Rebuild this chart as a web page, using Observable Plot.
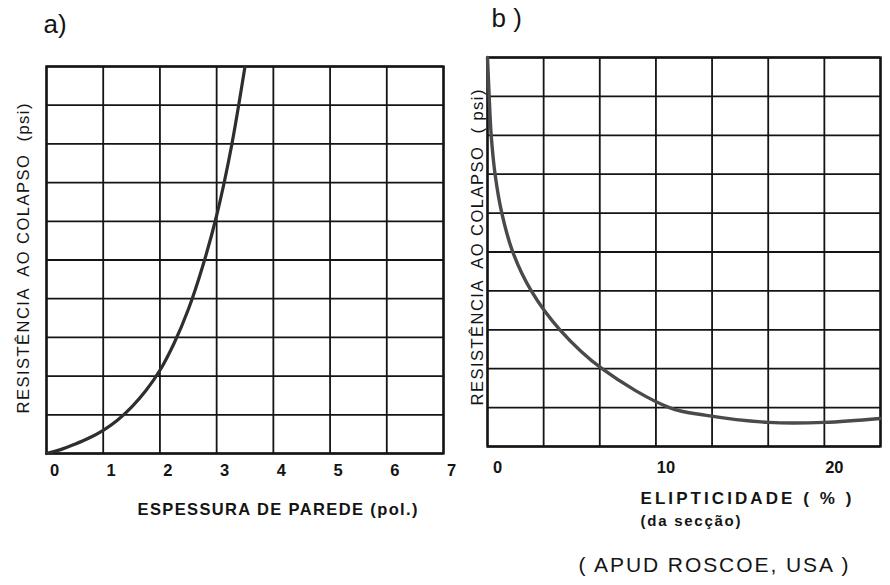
<!DOCTYPE html>
<html>
<head>
<meta charset="utf-8">
<script src="https://cdn.jsdelivr.net/npm/d3@7"></script>
<script src="https://cdn.jsdelivr.net/npm/@observablehq/plot@0.6"></script>
<style>
  html, body { margin: 0; padding: 0; background: #fff; }
  #wrap { position: relative; width: 890px; height: 585px; overflow: hidden; background: #fff; }
  #wrap svg { position: absolute; top: 0; background: transparent; overflow: visible; }
</style>
</head>
<body>
<div id="wrap"></div>
<script>
// ---- Panel a: wall thickness (pol.) vs collapse resistance (grid divisions)
const thicknessA = [0, 0.25, 0.5, 0.75, 1, 1.25, 1.5, 1.75, 2, 2.25, 2.5, 2.75, 3, 3.25, 3.5];
const resistA    = [0, 0.1, 0.24, 0.4, 0.6, 0.86, 1.2, 1.62, 2.15, 2.85, 3.72, 4.82, 6.15, 7.85, 10];
const xTicksA = [0, 1, 2, 3, 4, 5, 6, 7];

// ---- Panel b: ellipticity (%) vs collapse resistance (grid divisions)
const ellipB  = [0, 0.1, 0.22, 0.45, 0.85, 1.5, 2.6, 4.3, 6.8, 10.8, 13, 16.7, 20, 23.3];
const resistB = [10, 9, 8, 7, 6, 5, 4, 3, 2, 1, 0.8, 0.62, 0.62, 0.72];
const xGridB  = [0, 10/3, 20/3, 10, 40/3, 50/3, 20, 70/3];
const xLabelsB = [0, 10, 20];

const yGrid = [0, 1, 2, 3, 4, 5, 6, 7, 8, 9, 10];

const labelsA = {
  panel: "a)",
  x: "ESPESSURA DE PAREDE (pol.)",
  y: "RESISTÊNCIA  AO COLAPSO  (psi)"
};
const labelsB = {
  panel: "b )",
  x: "ELIPTICIDADE ( % )",
  x2: "(da secção)",
  y: "RESISTÊNCIA  AO COLAPSO  ( psi)",
  source: "( APUD ROSCOE, USA )"
};

const dataA = thicknessA.map((x, i) => ({x, y: resistA[i]}));
const dataB = ellipB.map((x, i) => ({x, y: resistB[i]}));

const font = "'Liberation Sans', Arial, sans-serif";
const ink = "#141414";

const plotA = Plot.plot({
  width: 460, height: 585,
  marginLeft: 46, marginRight: 17, marginTop: 66, marginBottom: 132,
  style: {fontFamily: font, background: "transparent", color: ink, overflow: "visible"},
  x: {domain: [0, 7]},
  y: {domain: [0, 10], axis: null},
  marks: [
    Plot.ruleX(xTicksA, {stroke: ink, strokeWidth: 1.8}),
    Plot.ruleY(yGrid, {stroke: ink, strokeWidth: 1.8}),
    Plot.frame({stroke: ink, strokeWidth: 2.4}),
    Plot.line(dataA, {x: "x", y: "y", curve: "catmull-rom", stroke: "#2e2e2e", strokeWidth: 3.2}),
    Plot.axisX(xTicksA, {tickSize: 0, tickPadding: 11, dx: 8, fontSize: 16.5, fontWeight: "bold", label: null}),
    Plot.text([labelsA.panel], {frameAnchor: "top-left", textAnchor: "start", lineAnchor: "middle", dx: -3, dy: -42, fontSize: 26, fill: ink}),
    Plot.text([labelsA.x], {frameAnchor: "bottom-left", textAnchor: "middle", lineAnchor: "middle", dx: 277 - 46, dy: 56, fontSize: 16.5, fontWeight: "bold", fill: ink}),
    Plot.text([labelsA.y], {frameAnchor: "top-left", rotate: -90, textAnchor: "middle", lineAnchor: "middle", dx: 23 - 46, dy: 258 - 66, fontSize: 16.5, fill: ink})
  ]
});

const plotB = Plot.plot({
  width: 445, height: 585,
  marginLeft: 42, marginRight: 10, marginTop: 57, marginBottom: 139,
  style: {fontFamily: font, background: "transparent", color: ink, overflow: "visible"},
  x: {domain: [0, 70/3]},
  y: {domain: [0, 10], axis: null},
  marks: [
    Plot.ruleX(xGridB, {stroke: ink, strokeWidth: 1.8}),
    Plot.ruleY(yGrid, {stroke: ink, strokeWidth: 1.8}),
    Plot.frame({stroke: ink, strokeWidth: 2.4}),
    Plot.line(dataB, {x: "x", y: "y", curve: "catmull-rom", stroke: "#4a4a4a", strokeWidth: 3.4}),
    Plot.axisX(xLabelsB, {tickSize: 0, tickPadding: 15, dx: 10, fontSize: 16.5, fontWeight: "bold", label: null}),
    Plot.text([labelsB.panel], {frameAnchor: "top-left", textAnchor: "start", lineAnchor: "middle", dx: 4, dy: -39, fontSize: 26, fill: ink}),
    Plot.text([labelsB.x], {frameAnchor: "bottom-left", textAnchor: "start", lineAnchor: "middle", dx: 640 - 487, dy: 498 - 446, fontSize: 17, fontWeight: "bold", fill: ink}),
    Plot.text([labelsB.x2], {frameAnchor: "bottom-left", textAnchor: "start", lineAnchor: "middle", dx: 640 - 487, dy: 521 - 446, fontSize: 15, fontWeight: "bold", fill: ink}),
    Plot.text([labelsB.source], {frameAnchor: "bottom-left", textAnchor: "start", lineAnchor: "middle", dx: 578 - 487, dy: 565 - 446, fontSize: 21, fill: ink}),
    Plot.text([labelsB.y], {frameAnchor: "top-left", rotate: -90, textAnchor: "middle", lineAnchor: "middle", dx: 477 - 487, dy: 247 - 57, fontSize: 16.5, fill: ink})
  ]
});

plotA.style.left = "0px";
plotB.style.left = "445px";
document.getElementById("wrap").append(plotA, plotB);

// stretch the lettering to the widths it spans in the scanned figure
const spans = new Map([
  [labelsA.x, 280], [labelsA.y, 310],
  [labelsB.x, 211], [labelsB.x2, 100], [labelsB.source, 270], [labelsB.y, 316]
]);
d3.selectAll("#wrap svg text").each(function () {
  const t = this.textContent;
  if (spans.has(t)) {
    d3.select(this).attr("textLength", spans.get(t)).attr("lengthAdjust", "spacing").style("white-space", "pre");
  }
});
</script>
</body>
</html>
